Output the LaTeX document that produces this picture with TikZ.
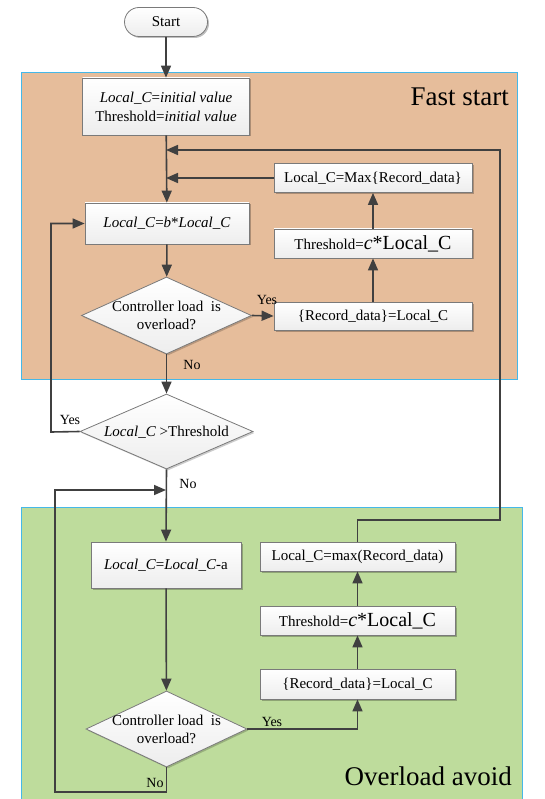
\documentclass[tikz,border=0pt]{standalone}
\usepackage{fontspec}
\setmainfont{Liberation Serif}
\usetikzlibrary{shapes.geometric,shapes.misc,arrows.meta,shadows}
\definecolor{linec}{HTML}{404040}
\definecolor{boxborder}{HTML}{7A7A7A}
\definecolor{fastfill}{HTML}{E6BD9B}
\definecolor{avoidfill}{HTML}{BEDC9C}
\definecolor{regionline}{HTML}{45B8E8}
\tikzset{
  txt/.style={font=\fontsize{15}{18}\selectfont},
  lbl/.style={font=\fontsize{14}{16}\selectfont, inner sep=0pt},
  big/.style={font=\fontsize{27}{30}\selectfont, inner sep=0pt},
  boxnode/.style={draw=boxborder, line width=0.8pt, rectangle, top color=white, bottom color=gray!14,
    drop shadow={shadow xshift=1.5pt, shadow yshift=-1.5pt, fill=black, opacity=0.25},
    inner sep=0pt, align=center, txt},
  decnode/.style={draw=boxborder, line width=0.8pt, diamond, top color=white, bottom color=gray!14,
    drop shadow={shadow xshift=1.5pt, shadow yshift=-1.5pt, fill=black, opacity=0.2},
    inner sep=0pt},
  startnode/.style={draw=boxborder, line width=0.8pt, rounded rectangle, top color=white, bottom color=gray!14,
    drop shadow={shadow xshift=1.5pt, shadow yshift=-1.5pt, fill=black, opacity=0.25},
    inner sep=0pt, txt},
  arr/.style={draw=linec, line width=1.6pt, -{Triangle[length=12pt,width=10pt]}},
}
\begin{document}
\begin{tikzpicture}[x=1pt,y=-1pt]
\useasboundingbox (0,0) rectangle (544,799);
% regions
\fill[fastfill] (21,72) rectangle (517,379);
\draw[regionline, line width=0.8pt] (21,72) rectangle (517,379);
\fill[avoidfill] (21,507) rectangle (522,799);
\draw[regionline, line width=0.8pt] (21,799) -- (21,507) -- (522,507) -- (522,799);
\node[big, anchor=east] (tfast) at (509,97) {Fast start};
\node[big, anchor=east] (tavoid) at (512,776) {Overload avoid};

% nodes
\node[startnode, minimum width=83pt, minimum height=29pt] (start) at (166,22) {Start};
\node[boxnode, minimum width=167pt, minimum height=57pt] (box1) at (166,106.5)
  {\textit{Local\_C}=\textit{initial value}\\[1pt]Threshold=\textit{initial value}};
\node[boxnode, minimum width=164pt, minimum height=41pt] (b1) at (167,223.5)
  {\textit{Local\_C}=\textit{b}*\textit{Local\_C}};
\node[boxnode, minimum width=198pt, minimum height=29pt] (maxA) at (373,178)
  {Local\_C=Max\{Record\_data\}};
\node[boxnode, minimum width=198pt, minimum height=29pt] (thrA) at (373,243.5)
  {Threshold={\fontsize{20}{22}\selectfont\textit{c}*Local\_C}};
\node[boxnode, minimum width=198pt, minimum height=28pt] (recA) at (373,316)
  {\{Record\_data\}=Local\_C};
\node[decnode, minimum width=170pt, minimum height=77pt] (d1) at (166.5,315.5) {};
\node[txt, align=center, inner sep=0pt] (d1t) at (166.5,315.5) {Controller load\ \ is\\overload?};
\node[decnode, minimum width=173pt, minimum height=75pt] (d2) at (166.5,431.5) {};
\node[txt, inner sep=0pt] (d2t) at (166.5,432) {\textit{Local\_C} {>}Threshold};

\node[boxnode, minimum width=150pt, minimum height=46pt] (boxC) at (166,565)
  {\textit{Local\_C}=\textit{Local\_C}-a};
\node[boxnode, minimum width=195pt, minimum height=29pt] (maxB) at (357.5,556.5)
  {Local\_C=max(Record\_data)};
\node[boxnode, minimum width=195pt, minimum height=29pt] (thrB) at (357.5,620.5)
  {Threshold={\fontsize{20}{22}\selectfont\textit{c}*Local\_C}};
\node[boxnode, minimum width=195pt, minimum height=30pt] (recB) at (357.5,684)
  {\{Record\_data\}=Local\_C};
\node[decnode, minimum width=161pt, minimum height=76pt] (d3) at (166.5,729) {};
\node[txt, align=center, inner sep=0pt] (d3t) at (166.5,729) {Controller load\ \ is\\overload?};

% junction coordinates
\coordinate (j1) at (166,150);
\coordinate (j3) at (166,490);
\coordinate (c1) at (500,520);
\coordinate (c2) at (51,432);
\coordinate (c3) at (55,792);

% connectors
\draw[arr] (start) -- (box1);
\draw[arr] (box1) -- (b1);
\draw[arr] (maxA.west) -- (maxA.west -| j1);
\draw[arr] (maxB.north) |- (c1) |- (j1);
\draw[arr] (b1) -- (d1);
\draw[arr] (d1.east) -- (recA.west);
\draw[arr] (recA) -- (thrA);
\draw[arr] (thrA) -- (maxA);
\draw[arr] (d1.south) -- (d2.north);
\draw[arr] (d2.west) -- (c2) |- (b1.west);
\draw[arr] (d2.south) -- (boxC.north);
\draw[arr] (boxC) -- (d3);
\draw[arr] (d3.east) -| (recB.south);
\draw[arr] (recB) -- (thrB);
\draw[arr] (thrB) -- (maxB);
\draw[arr] (d3.south) |- (c3) |- (j3);

% labels
\node[lbl] (y1) at (267,300) {Yes};
\node[lbl] (n1) at (192,365) {No};
\node[lbl] (y2) at (70,420) {Yes};
\node[lbl] (n2) at (188,484) {No};
\node[lbl] (y3) at (272,722) {Yes};
\node[lbl] (n3) at (155,783) {No};
\end{tikzpicture}
\end{document}
